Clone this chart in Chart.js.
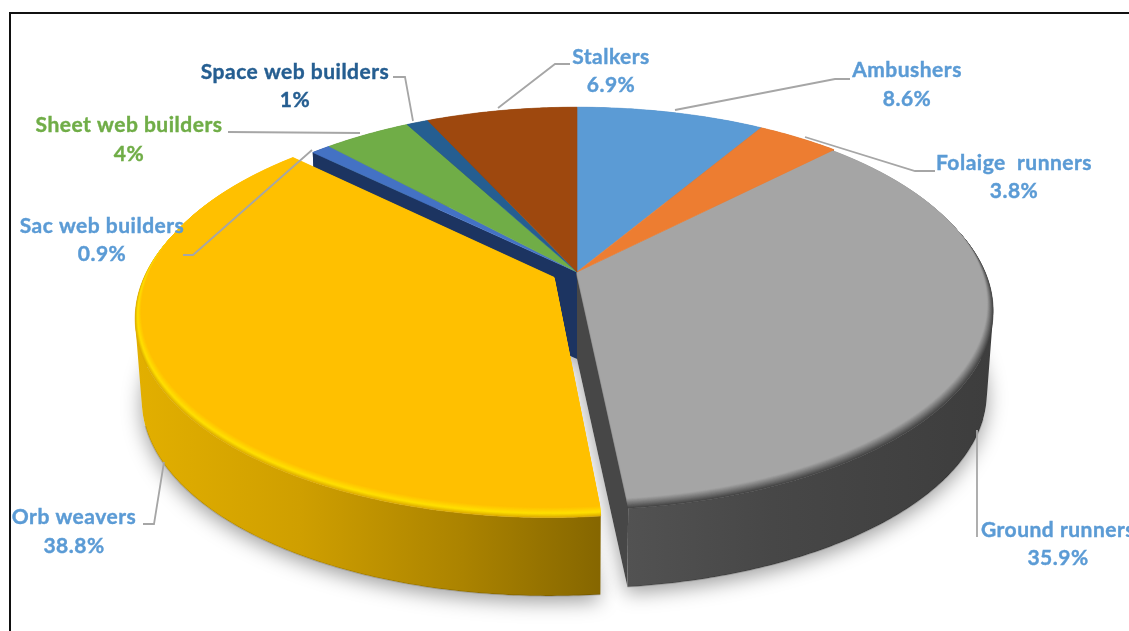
<!DOCTYPE html>
<html lang="en">
<head>
  <meta charset="UTF-8">
  <title>Spider guilds</title>
  <script src="https://cdn.jsdelivr.net/npm/chart.js"></script>
  <style>
    html,body{margin:0; padding:0; background:#fff; overflow:hidden;}
    #wrap{position:relative; width:1129px; height:631px; overflow:hidden;}
    #frame{position:absolute; left:9px; top:12px; width:1300px; height:800px; border:2px solid #111;}
    canvas{position:absolute; left:0; top:0;}
  </style>
</head>
<body>
  <div id="wrap">
    <div id="frame"></div>
    <canvas id="myChart" width="1129" height="631"></canvas>
  </div>
  <script>
    const categories = ['Ambushers', 'Folaige  runners', 'Ground runners', 'Orb weavers', 'Sac web builders', 'Sheet web builders', 'Space web builders', 'Stalkers'];
    const shares = [8.6, 3.8, 35.9, 38.8, 0.9, 4, 1, 6.9];
    const sliceColors = ['#5b9bd5', '#ed7d31', '#a5a5a5', '#ffc000', '#4472c4', '#70ad47', '#255e91', '#9e480e'];
    const sideColors = ['#3f74a6', '#b05a20', '#474747', '#c99b00', '#1c3461', '#4f7c31', '#1a4468', '#70330a'];
    const labelColors = ['#5b9bd5', '#5b9bd5', '#5b9bd5', '#5b9bd5', '#5b9bd5', '#70ad47', '#255e91', '#5b9bd5'];
    const explode = [0, 0, 0, 19, 0, 0, 0, 0];

    // label centre, first and second line y, then the leader line
    const labelSpots = [
      {x: 907, y: 70, y2: 99, line: [[850, 79], [835, 79], [675, 110]]},
      {x: 1014, y: 163, y2: 191, line: [[935, 171], [915, 171], [805, 137]]},
      {x: 1058, y: 530, y2: 558, line: [[977, 537], [977, 430]]},
      {x: 74, y: 517, y2: 546, line: [[143, 524], [154, 524], [164, 462]]},
      {x: 102, y: 226, y2: 254, line: [[183, 255], [193, 255], [312, 150]]},
      {x: 129, y: 125, y2: 154, line: [[228, 132], [360, 133]]},
      {x: 295, y: 72, y2: 100, line: [[393, 77], [405, 77], [413, 121]]},
      {x: 611, y: 57, y2: 85, line: [[570, 64], [555, 64], [498, 108]]}
    ];

    // tilted disc: apex position, spread and perspective
    const apexX = 577, apexY = 272, spreadX = 410, spreadY = 193, persp = 0.171;
    const depth = 87, floorScale = 0.985;
    const rimDrop = 5, rimShrink = 0.022;
    const GRAY = 2, ORB = 3;

    function project(u, v){
      const w = 1 - persp * v;
      return {x: spreadX * u / w, y: spreadY * v / w};
    }

    // screen outline of one slice at a given level
    function sliceOutline(arc, level){
      const mid = (arc.startAngle + arc.endAngle) / 2;
      const shift = arc.options.offset / arc.outerRadius;
      const du = Math.cos(mid) * shift, dv = Math.sin(mid) * shift;
      const apex = project(du, dv);
      const steps = Math.max(2, Math.ceil((arc.endAngle - arc.startAngle) * 90));
      const rim = [];
      for(let i = 0; i <= steps; i++){
        const a = arc.startAngle + (arc.endAngle - arc.startAngle) * i / steps;
        const p = project(Math.cos(a) + du, Math.sin(a) + dv);
        // the rim narrows most towards the viewer
        const r = 1 - level.shrink * Math.max(0, 0.6 + 0.4 * Math.sin(a));
        rim.push({
          x: apexX + apex.x * level.s + (p.x - apex.x) * level.s * r,
          y: apexY + level.dy + apex.y * level.s + (p.y - apex.y) * level.s * r,
          front: Math.sin(a)
        });
      }
      const tip = {x: apexX + apex.x * level.s, y: apexY + level.dy + apex.y * level.s};
      return {tip, rim};
    }

    function trace(ctx, pts){
      ctx.beginPath();
      pts.forEach((p, i) => i ? ctx.lineTo(p.x, p.y) : ctx.moveTo(p.x, p.y));
      ctx.closePath();
    }

    function fillWedge(ctx, arc, level, color){
      const o = sliceOutline(arc, level);
      trace(ctx, [o.tip, ...o.rim]);
      ctx.fillStyle = color;
      ctx.fill();
      ctx.strokeStyle = color;
      ctx.lineWidth = 0.6;
      ctx.stroke();
    }

    const floorLevel = {dy: depth, s: floorScale, shrink: 0};
    const edgeLevel = {dy: rimDrop, s: 1, shrink: 0};
    const flatLevel = {dy: 0, s: 1, shrink: 0};

    function wallPaint(ctx, i){
      if(i === ORB){
        const g = ctx.createLinearGradient(137, 0, 602, 0);
        g.addColorStop(0, '#e2af00');
        g.addColorStop(0.35, '#cf9f00');
        g.addColorStop(0.7, '#ab8300');
        g.addColorStop(1, '#856600');
        return g;
      }
      if(i === GRAY){
        const g = ctx.createLinearGradient(627, 0, 993, 0);
        g.addColorStop(0, '#525252');
        g.addColorStop(0.4, '#474747');
        g.addColorStop(1, '#3d3d3d');
        return g;
      }
      return sideColors[i];
    }

    // all quads go into one path with the same winding, so no seams and
    // the side stays filled where the disc turns away
    function drawWall(ctx, arc, i){
      const top = sliceOutline(arc, i === GRAY || i === ORB ? edgeLevel : flatLevel).rim;
      const low = sliceOutline(arc, floorLevel).rim;
      ctx.beginPath();
      for(let k = 0; k < top.length - 1; k++){
        let q = [top[k], top[k + 1], low[k + 1], low[k]];
        let area = 0;
        q.forEach((p, n) => {
          const next = q[(n + 1) % 4];
          area += p.x * next.y - next.x * p.y;
        });
        if(area < 0) q = q.reverse();
        q.forEach((p, n) => n ? ctx.lineTo(p.x, p.y) : ctx.moveTo(p.x, p.y));
        ctx.closePath();
      }
      ctx.fillStyle = wallPaint(ctx, i);
      ctx.fill();

      // darker lip along the front of the base
      ctx.beginPath();
      low.filter(p => p.front > 0.3).forEach((p, k) => k ? ctx.lineTo(p.x, p.y) : ctx.moveTo(p.x, p.y));
      ctx.strokeStyle = 'rgba(0,0,0,0.16)';
      ctx.lineWidth = 1.5;
      ctx.stroke();
    }

    // cut face left open by an exploded neighbour
    function drawCutFace(ctx, arc, i, rimIdx){
      const top = sliceOutline(arc, flatLevel);
      const low = sliceOutline(arc, floorLevel);
      const a = rimIdx === 0 ? 0 : top.rim.length - 1;
      trace(ctx, [top.tip, top.rim[a], low.rim[a], low.tip]);
      ctx.fillStyle = sideColors[i];
      ctx.fill();
    }

    function mix(c1, c2, t){
      const n = c => [1, 3, 5].map(k => parseInt(c.substr(k, 2), 16));
      const a = n(c1), b = n(c2);
      return 'rgb(' + a.map((x, k) => Math.round(x + (b[k] - x) * t)).join(',') + ')';
    }

    // rounded rim of the two front slices, stacked from wall colour up to the flat top
    function rimColor(i, t){
      if(i === GRAY) return mix('#424242', sliceColors[GRAY], t);
      if(t < 0.4) return mix('#dcaa00', '#ffe000', t / 0.4);
      return mix('#ffe000', sliceColors[ORB], (t - 0.4) / 0.6);
    }

    function drawTop(ctx, arc, i){
      if(i === GRAY || i === ORB){
        const layers = 14;
        for(let n = 0; n < layers; n++){
          const t = n / (layers - 1);
          const level = {dy: rimDrop * (1 - t), s: 1, shrink: rimShrink * t};
          fillWedge(ctx, arc, level, rimColor(i, t));
        }
      } else {
        fillWedge(ctx, arc, flatLevel, sliceColors[i]);
      }
    }

    const pie3d = {
      id: 'pie3d',
      beforeDatasetsDraw(chart){
        const ctx = chart.ctx;
        const arcs = chart.getDatasetMeta(0).data;
        const still = [], moved = [];
        arcs.forEach((arc, i) => (explode[i] ? moved : still).push(i));

        // soft shadow under the base
        ctx.save();
        ctx.shadowColor = 'rgba(0,0,0,0.38)';
        ctx.shadowBlur = 20;
        ctx.shadowOffsetY = 6;
        arcs.forEach(arc => {
          const o = sliceOutline(arc, floorLevel);
          trace(ctx, [o.tip, ...o.rim]);
          ctx.fillStyle = '#fff';
          ctx.fill();
        });
        ctx.restore();

        still.forEach(i => drawWall(ctx, arcs[i], i));
        still.forEach(i => {
          const n = arcs.length;
          if(explode[(i + 1) % n]) drawCutFace(ctx, arcs[i], i, 1);
          if(explode[(i - 1 + n) % n]) drawCutFace(ctx, arcs[i], i, 0);
        });
        still.filter(i => i === GRAY).forEach(i => drawTop(ctx, arcs[i], i));
        still.filter(i => i !== GRAY).forEach(i => drawTop(ctx, arcs[i], i));

        moved.forEach(i => {
          drawWall(ctx, arcs[i], i);
          drawTop(ctx, arcs[i], i);
        });

        drawLabels(ctx);
        return false; // slices are already painted
      }
    };

    function drawLabels(ctx){
      ctx.save();
      ctx.strokeStyle = '#a6a6a6';
      ctx.lineWidth = 1.8;
      labelSpots.forEach(spot => {
        ctx.beginPath();
        spot.line.forEach((p, k) => k ? ctx.lineTo(p[0], p[1]) : ctx.moveTo(p[0], p[1]));
        ctx.stroke();
      });
      ctx.font = 'bold 21px Lato';
      ctx.letterSpacing = '0.5px';
      ctx.textAlign = 'center';
      ctx.textBaseline = 'middle';
      ctx.lineWidth = 0.4;
      labelSpots.forEach((spot, i) => {
        ctx.fillStyle = labelColors[i];
        ctx.strokeStyle = labelColors[i];
        ctx.fillText(categories[i], spot.x, spot.y);
        ctx.strokeText(categories[i], spot.x, spot.y);
        ctx.fillText(shares[i] + '%', spot.x, spot.y2);
        ctx.strokeText(shares[i] + '%', spot.x, spot.y2);
      });
      ctx.restore();
    }

    new Chart(document.getElementById('myChart'), {
      type: 'pie',
      data: {
        labels: categories,
        datasets: [{
          data: shares,
          backgroundColor: sliceColors,
          borderWidth: 0,
          offset: explode
        }]
      },
      options: {
        responsive: false,
        animation: false,
        events: [],
        plugins: {legend: {display: false}, tooltip: {enabled: false}}
      },
      plugins: [pie3d]
    });
  </script>
</body>
</html>
